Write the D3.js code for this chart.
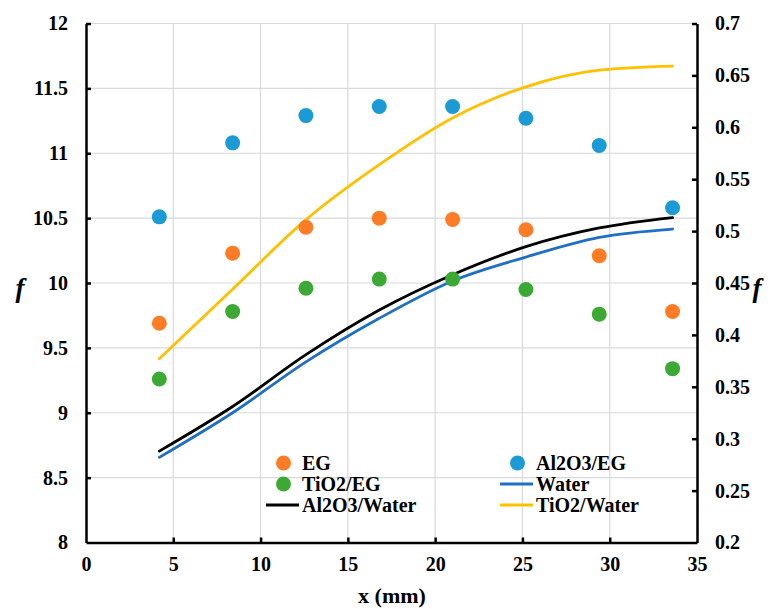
<!DOCTYPE html>
<html>
<head>
<meta charset="utf-8">
<script src="https://cdn.jsdelivr.net/npm/d3@7"></script>
<style>
  html, body { margin: 0; padding: 0; background: #fff; }
  svg { display: block; }
  svg text { font-family: "Liberation Serif", Tinos, "Times New Roman", Times, "DejaVu Serif", serif !important; font-weight: bold; fill: #000; }
</style>
</head>
<body>
<svg id="chart" width="774" height="609"></svg>
<script>
// Axial positions (mm)
const xPositions = [4.2, 8.4, 12.6, 16.8, 21, 25.2, 29.4, 33.6];

// Left axis series (markers)
const egValues      = [9.69, 10.23, 10.43, 10.50, 10.49, 10.41, 10.21, 9.78];
const al2o3EgValues = [10.51, 11.08, 11.29, 11.36, 11.36, 11.27, 11.06, 10.58];
const tio2EgValues  = [9.26, 9.78, 9.96, 10.03, 10.03, 9.95, 9.76, 9.34];

// Right axis series (lines)
const waterValues      = [0.282, 0.325, 0.374, 0.416, 0.452, 0.475, 0.494, 0.502];
const al2o3WaterValues = [0.288, 0.331, 0.381, 0.424, 0.458, 0.485, 0.503, 0.513];
const tio2WaterValues  = [0.377, 0.444, 0.511, 0.564, 0.609, 0.639, 0.655, 0.659];

// Tick labels
const xTicks = [0, 5, 10, 15, 20, 25, 30, 35];
const leftTicks = [8, 8.5, 9, 9.5, 10, 10.5, 11, 11.5, 12];
const rightTicks = [0.2, 0.25, 0.3, 0.35, 0.4, 0.45, 0.5, 0.55, 0.6, 0.65, 0.7];

const svg = d3.select("#chart");
const plotLeft = 86, plotRight = 697, plotTop = 23.5, plotBottom = 542.5;

const x = d3.scaleLinear().domain([0, 35]).range([plotLeft, plotRight]);
const yL = d3.scaleLinear().domain([8, 12]).range([plotBottom, plotTop]);
const yR = d3.scaleLinear().domain([0.2, 0.7]).range([plotBottom, plotTop]);

// Grid
const grid = svg.append("g").attr("stroke", "#d9d9d9").attr("stroke-width", 1.2);
grid.selectAll("line.v").data(xTicks.filter(d => d > 0 && d < 35)).join("line").attr("class", "v")
  .attr("x1", d => x(d)).attr("x2", d => x(d)).attr("y1", plotTop).attr("y2", plotBottom);
grid.selectAll("line.h").data(leftTicks.filter(d => d > 8)).join("line").attr("class", "h")
  .attr("x1", plotLeft).attr("x2", plotRight).attr("y1", d => yL(d)).attr("y2", d => yL(d));

// Axes
const fmt = d => String(d);
const axisB = svg.append("g").attr("transform", `translate(0,${plotBottom})`)
  .call(d3.axisBottom(x).tickValues(xTicks).tickSizeInner(-5).tickSizeOuter(0).tickPadding(14).tickFormat(fmt));
const axisL = svg.append("g").attr("transform", `translate(${plotLeft},0)`)
  .call(d3.axisLeft(yL).tickValues(leftTicks).tickSizeInner(-5).tickSizeOuter(0).tickPadding(18).tickFormat(fmt));
const axisR = svg.append("g").attr("transform", `translate(${plotRight},0)`)
  .call(d3.axisRight(yR).tickValues(rightTicks).tickSizeInner(-5).tickSizeOuter(0).tickPadding(18).tickFormat(fmt));

[axisB, axisL, axisR].forEach(a => {
  a.attr("font-family", null).attr("font-size", 20);
  a.select(".domain").attr("stroke", "#000").attr("stroke-width", 2.5);
  a.selectAll(".tick line").attr("stroke", "#000").attr("stroke-width", 2.5);
  a.selectAll(".tick text").attr("font-size", 20).attr("fill", "#000");
});
axisB.selectAll(".tick line").filter(d => d === 0 || d === 35).remove();
axisL.selectAll(".tick line").filter(d => d === 8).remove();
axisR.selectAll(".tick line").filter(d => d === 0.2).remove();

// Lines (right axis)
const lineGen = d3.line().x((d, i) => x(xPositions[i])).y(d => yR(d)).curve(d3.curveMonotoneX);
const lineSeries = [
  { name: "Water", values: waterValues, color: "#1F6FC5" },
  { name: "Al2O3/Water", values: al2o3WaterValues, color: "#000000" },
  { name: "TiO2/Water", values: tio2WaterValues, color: "#FFC000" }
];
svg.append("g").selectAll("path").data(lineSeries).join("path")
  .attr("d", d => lineGen(d.values))
  .attr("fill", "none").attr("stroke", d => d.color).attr("stroke-width", 2.8)
  .attr("stroke-linecap", "round");

// Markers (left axis)
const markerSeries = [
  { name: "EG", values: egValues, color: "#FF7C26" },
  { name: "Al2O3/EG", values: al2o3EgValues, color: "#1B9AD6" },
  { name: "TiO2/EG", values: tio2EgValues, color: "#3DA935" }
];
markerSeries.forEach(s => {
  svg.append("g").selectAll("circle").data(s.values).join("circle")
    .attr("cx", (d, i) => x(xPositions[i])).attr("cy", d => yL(d))
    .attr("r", 7.5).attr("fill", s.color);
});

// Legend
const legendItems = [
  { name: "EG", type: "dot", color: "#FF7C26", lx: 266, ty: 463 },
  { name: "Al2O3/EG", type: "dot", color: "#1B9AD6", lx: 500, ty: 463 },
  { name: "TiO2/EG", type: "dot", color: "#3DA935", lx: 266, ty: 484 },
  { name: "Water", type: "line", color: "#1F6FC5", lx: 500, ty: 484 },
  { name: "Al2O3/Water", type: "line", color: "#000000", lx: 266, ty: 505 },
  { name: "TiO2/Water", type: "line", color: "#FFC000", lx: 500, ty: 505 }
];
const lg = svg.append("g");
legendItems.forEach(it => {
  if (it.type === "dot") {
    lg.append("circle").attr("cx", it.lx + 17.5).attr("cy", it.ty).attr("r", 7.5).attr("fill", it.color);
  } else {
    lg.append("line").attr("x1", it.lx).attr("x2", it.lx + 33).attr("y1", it.ty).attr("y2", it.ty)
      .attr("stroke", it.color).attr("stroke-width", 2.8);
  }
  lg.append("text").attr("x", it.lx + 36).attr("y", it.ty).attr("dy", "0.35em")
    .attr("font-size", 20).text(it.name);
});

// Axis titles
svg.append("text").attr("x", 392).attr("y", 603).attr("text-anchor", "middle")
  .attr("font-size", 22).text("x (mm)");
svg.append("text").attr("x", 20).attr("y", 297).attr("text-anchor", "middle")
  .attr("font-size", 27).attr("font-style", "italic").text("f");
svg.append("text").attr("x", 757).attr("y", 297).attr("text-anchor", "middle")
  .attr("font-size", 27).attr("font-style", "italic").text("f");
</script>
</body>
</html>
